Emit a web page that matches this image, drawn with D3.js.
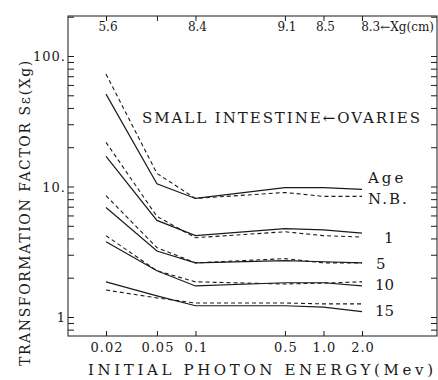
<!DOCTYPE html>
<html>
<head>
<meta charset="utf-8">
<script src="https://cdn.jsdelivr.net/npm/d3@7"></script>
<style>
  html, body { margin: 0; padding: 0; background: #fff; }
  svg { display: block; }
  text { font-family: "DejaVu Serif", "Liberation Serif", "Times New Roman", serif; fill: #1a1a1a; }
</style>
</head>
<body>
<svg id="chart" width="438" height="380"></svg>
<script>
// Photon energies (MeV) at which the factor was evaluated
const energies = [0.02, 0.05, 0.1, 0.5, 1.0, 2.0];
const energyLabels = ["0.02", "0.05", "0.1", "0.5", "1.0", "2.0"];
// Depth Xg (cm) listed above each energy
const depthLabels = ["5.6", "", "8.4", "9.1", "8.5", "8.3←Xg(cm)"];

const ages = ["N.B.", "1", "5", "10", "15"];

// Small intestine (solid lines), one row per age
const smallIntestine = [
  [51, 10.5, 8.1, 9.8, 9.8, 9.5],
  [17.0, 5.5, 4.2, 4.75, 4.65, 4.4],
  [6.9, 3.2, 2.6, 2.7, 2.65, 2.6],
  [3.77, 2.26, 1.73, 1.83, 1.83, 1.73],
  [1.86, 1.45, 1.22, 1.22, 1.19, 1.1]
];
// Ovaries (dashed lines), one row per age
const ovaries = [
  [72.7, 12.6, 8.1, 9.0, 8.4, 8.4],
  [21.8, 5.9, 4.05, 4.5, 4.2, 4.1],
  [8.5, 3.4, 2.6, 2.8, 2.6, 2.6],
  [4.2, 2.26, 1.86, 1.79, 1.82, 1.86],
  [1.61, 1.4, 1.28, 1.28, 1.26, 1.26]
];

const yTickValues = [1, 10, 100];
const yTickLabels = ["1", "10.", "100."];

const svg = d3.select("#chart");
const frame = { left: 68, right: 437, top: 16, bottom: 336 };

const x = d3.scaleLog().domain([0.02, 2]).range([106, 362]);
const y = d3.scaleLog().domain([1, 100]).range([317, 56]);
// same scale stretched over the whole frame, for the minor ticks
const yFrame = d3.scaleLog()
  .domain([y.invert(frame.bottom), y.invert(frame.top)])
  .range([frame.bottom, frame.top]);
const minorTicks = yFrame.ticks();

const ink = "#1a1a1a";

// frame
svg.append("rect")
  .attr("x", frame.left).attr("y", frame.top)
  .attr("width", frame.right - frame.left)
  .attr("height", frame.bottom - frame.top)
  .attr("fill", "none").attr("stroke", ink).attr("stroke-width", 1);

function styleAxis(g) {
  g.select(".domain").remove();
  g.selectAll("text").remove();
  g.selectAll("line").attr("stroke", ink).attr("stroke-width", 1);
}

// inward ticks on all four sides
svg.append("g").attr("transform", `translate(${frame.left},0)`)
  .call(d3.axisRight(yFrame).tickValues(minorTicks).tickSize(6)).call(styleAxis);
svg.append("g").attr("transform", `translate(${frame.right},0)`)
  .call(d3.axisLeft(yFrame).tickValues(minorTicks).tickSize(6)).call(styleAxis);
svg.append("g").attr("transform", `translate(0,${frame.bottom})`)
  .call(d3.axisTop(x).tickValues(energies).tickSize(5)).call(styleAxis);
svg.append("g").attr("transform", `translate(0,${frame.top})`)
  .call(d3.axisBottom(x).tickValues(energies).tickSize(5)).call(styleAxis);

// y tick labels
svg.append("g").selectAll("text").data(yTickValues).join("text")
  .attr("x", frame.left - 2)
  .attr("y", d => y(d) + 5)
  .attr("text-anchor", "end")
  .attr("font-size", 13)
  .attr("letter-spacing", 1)
  .text((d, i) => yTickLabels[i]);

// x tick labels
svg.append("g").selectAll("text").data(energies).join("text")
  .attr("x", d => x(d) + 1)
  .attr("y", 352)
  .attr("text-anchor", "middle")
  .attr("font-size", 13)
  .attr("letter-spacing", 1)
  .text((d, i) => energyLabels[i]);

// depth labels along the top
svg.append("g").selectAll("text").data(energies).join("text")
  .attr("x", (d, i) => i === energies.length - 1 ? frame.right - 3 : x(d) + 2)
  .attr("y", 31)
  .attr("text-anchor", (d, i) => i === energies.length - 1 ? "end" : "middle")
  .attr("font-size", 12)
  .text((d, i) => depthLabels[i]);

// curves
const line = d3.line().x((d, i) => x(energies[i])).y(d => y(d));

svg.append("g").selectAll("path").data(smallIntestine).join("path")
  .attr("d", line)
  .attr("fill", "none").attr("stroke", ink).attr("stroke-width", 1.2);

svg.append("g").selectAll("path").data(ovaries).join("path")
  .attr("d", line)
  .attr("fill", "none").attr("stroke", ink).attr("stroke-width", 1.1)
  .attr("stroke-dasharray", "4,3");

// age labels at the right end of each pair
const ageLabelPos = [
  { x: 368, y: 204, ls: 2 },
  { x: 384, y: 243, ls: 0 },
  { x: 376, y: 269, ls: 0 },
  { x: 375, y: 290, ls: 0 },
  { x: 375, y: 316, ls: 0 }
];
svg.append("g").selectAll("text").data(ages).join("text")
  .attr("x", (d, i) => ageLabelPos[i].x)
  .attr("y", (d, i) => ageLabelPos[i].y)
  .attr("font-size", 15)
  .attr("letter-spacing", (d, i) => ageLabelPos[i].ls)
  .text(d => d);

svg.append("text")
  .attr("x", 368).attr("y", 183)
  .attr("font-size", 15).attr("letter-spacing", 3)
  .text("Age");

svg.append("text")
  .attr("x", 142).attr("y", 123)
  .attr("font-size", 15)
  .attr("textLength", 278).attr("lengthAdjust", "spacing")
  .text("SMALL INTESTINE←OVARIES");

// axis titles
svg.append("text")
  .attr("x", 88).attr("y", 375)
  .attr("font-size", 15)
  .attr("textLength", 345).attr("lengthAdjust", "spacing")
  .text("INITIAL  PHOTON  ENERGY(Mev)");

svg.append("text")
  .attr("transform", "translate(30,366) rotate(-90)")
  .attr("font-size", 14)
  .attr("letter-spacing", 1.6)
  .text("TRANSFORMATION  FACTOR  Sε(Xg)");
</script>
</body>
</html>
